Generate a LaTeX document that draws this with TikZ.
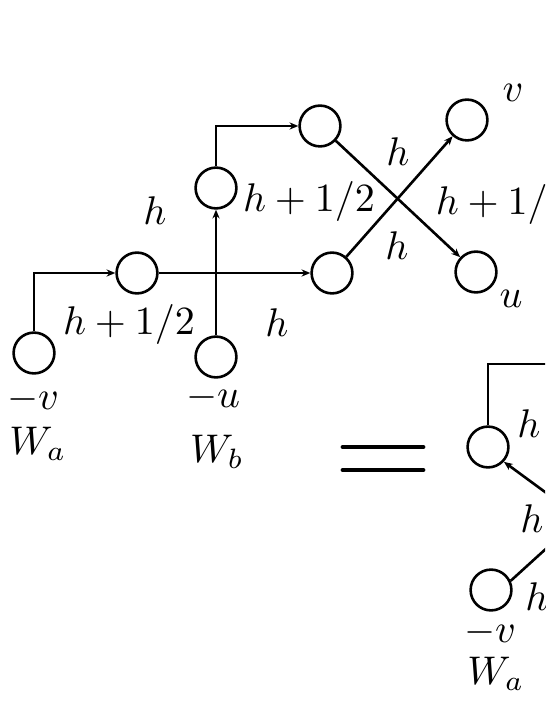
\documentclass[tikz,border=0pt]{standalone}
\usetikzlibrary{arrows.meta}
\begin{document}
\begin{tikzpicture}[x=0.25pt,y=-0.25pt,
  vert/.style={circle,draw,line width=0.65pt,minimum size=10.2pt,inner sep=0pt},
  lab/.style={anchor=base,inner sep=0pt},
  conn/.style={line width=0.65pt},
  arr/.style={conn,-{Stealth[length=2.2pt,width=1.8pt]}},
  eqbar/.style={line width=1.2pt,line cap=round}]
\useasboundingbox (0,0) rectangle (545,705);
\clip (0,0) rectangle (545,705);
% vertices
\node[vert] (wa) at (34,353) {};
\node[vert] (wb) at (216,357) {};
\node[vert] (A) at (137,273) {};
\node[vert] (B) at (216,188) {};
\node[vert] (C) at (320,126) {};
\node[vert] (D) at (332,273) {};
\node[vert] (V) at (467,120) {};
\node[vert] (U) at (476,272) {};
\node[vert] (R1) at (488,447) {};
\node[vert] (R2) at (491,590) {};
% connectors
\draw[arr] (wa) |- (A);
\draw[arr] (A) -- (D);
\draw[arr] (wb) -- (B);
\draw[arr] (B) |- (C);
\draw[arr] (C) -- (U);
\draw[arr] (D) -- (V);
\coordinate (r1top) at (560,364);
\draw[conn] (R1) |- (r1top);
\coordinate (r1in) at (560,503);
\draw[arr] (r1in) -- (R1.-43);
\coordinate (r2out) at (560,536);
\draw[conn] (R2.25) -- (r2out);
% labels
\node[lab] (l1) at (155,225) {$h$};
\node[lab] (l2) at (129,335) {$h+1/2$};
\node[lab] (l3) at (277,337) {$h$};
\node[lab] (l4) at (309,212) {$h+1/2$};
\node[lab] (l5) at (398,166) {$h$};
\node[lab] (l6) at (397,260) {$h$};
\node[lab,anchor=base west] (l7) at (435,215) {$h+1/2$};
\node[lab] (lv) at (513,102) {$v$};
\node[lab] (lu) at (511,308) {$u$};
\node[lab] (mv) at (33,410) {$-v$};
\node[lab] (mu) at (213,407) {$-u$};
\node[lab] (wal) at (38,455) {$W_a$};
\node[lab] (wbl) at (217,462) {$W_b$};
\node[lab] (rh1) at (529,437) {$h$};
\node[lab] (rh2) at (532,532) {$h$};
\node[lab] (rh3) at (537,610) {$h$};
\node[lab] (rmv) at (490,642) {$-v$};
\node[lab] (rwa) at (496,684) {$W_a$};
% equals sign
\draw[eqbar] (343,447) -- (423,447);
\draw[eqbar] (343,470) -- (423,470);
\end{tikzpicture}
\end{document}
